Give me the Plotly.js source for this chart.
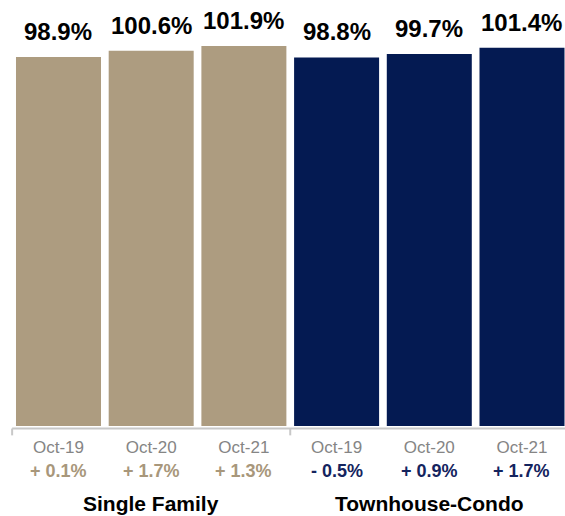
<!DOCTYPE html>
<html>
<head>
<meta charset="utf-8">
<script src="https://cdn.plot.ly/plotly-3.0.1.min.js"></script>
<style>html,body{margin:0;padding:0;background:#fff;}#chart{width:565px;height:516px;}</style>
</head>
<body>
<div id="chart"></div>
<script>
const groups = ["Single Family", "Townhouse-Condo"];
const periods = ["Oct-19", "Oct-20", "Oct-21", "Oct-19", "Oct-20", "Oct-21"];
const values = [98.9, 100.6, 101.9, 98.8, 99.7, 101.4];
const valueLabels = ["98.9%", "100.6%", "101.9%", "98.8%", "99.7%", "101.4%"];
const changeLabels = ["+ 0.1%", "+ 1.7%", "+ 1.3%", "- 0.5%", "+ 0.9%", "+ 1.7%"];
const groupOf = [0, 0, 0, 1, 1, 1];

const barColors = ["#AD9C80", "#041A52"];
const changeColors = ["#A8977B", "#14245E"];

const xs = values.map((v, i) => i);

const trace = {
  type: "bar",
  x: xs,
  y: values,
  marker: { color: groupOf.map(g => barColors[g]), line: { width: 0 } },
  hoverinfo: "skip",
  showlegend: false
};

const annotations = [];
values.forEach((v, i) => {
  annotations.push({
    x: i, y: v, xref: "x", yref: "y",
    text: valueLabels[i], showarrow: false,
    yanchor: "bottom", yshift: 10,
    font: { family: "Liberation Sans, Arial, sans-serif", size: 24, color: "#000000", weight: "bold" }
  });
  annotations.push({
    x: i, y: -0.106, xref: "x", yref: "paper",
    text: "<b>" + changeLabels[i] + "</b>", showarrow: false,
    yanchor: "middle",
    font: { family: "Liberation Sans, Arial, sans-serif", size: 18, color: changeColors[groupOf[i]] }
  });
});
groups.forEach((g, gi) => {
  annotations.push({
    x: gi * 3 + 1, y: -0.182, xref: "x", yref: "paper",
    text: "<b>" + g + "</b>", showarrow: false, yanchor: "middle",
    font: { family: "Liberation Sans, Arial, sans-serif", size: 21, color: "#000000" }
  });
});

const axisY = -0.006;
const shapes = [
  { type: "line", xref: "x", yref: "paper", x0: -0.5, x1: 5.6, y0: axisY, y1: axisY,
    line: { color: "#C8C8C8", width: 2 } }
];
[-0.5, 2.5, 5.5].forEach(t => {
  shapes.push({ type: "line", xref: "x", yref: "paper", x0: t, x1: t, y0: axisY, y1: -0.022,
    line: { color: "#C8C8C8", width: 2 } });
});

const layout = {
  width: 565, height: 516,
  margin: { l: 0, r: 0, t: 0, b: 90 },
  paper_bgcolor: "#ffffff", plot_bgcolor: "#ffffff",
  bargap: 0.083,
  xaxis: {
    range: [-0.631, 5.464],
    tickvals: xs, ticktext: periods,
    ticks: "", showline: false, showgrid: false, zeroline: false,
    tickfont: { family: "Liberation Sans, Arial, sans-serif", size: 17, color: "#858585" },
    ticklabelstandoff: 9
  },
  yaxis: { range: [0, 114.2], visible: false, showgrid: false, zeroline: false },
  annotations: annotations,
  shapes: shapes,
  font: { family: "Liberation Sans, Arial, sans-serif" }
};

Plotly.newPlot("chart", [trace], layout, { staticPlot: true, displayModeBar: false });
</script>
</body>
</html>
